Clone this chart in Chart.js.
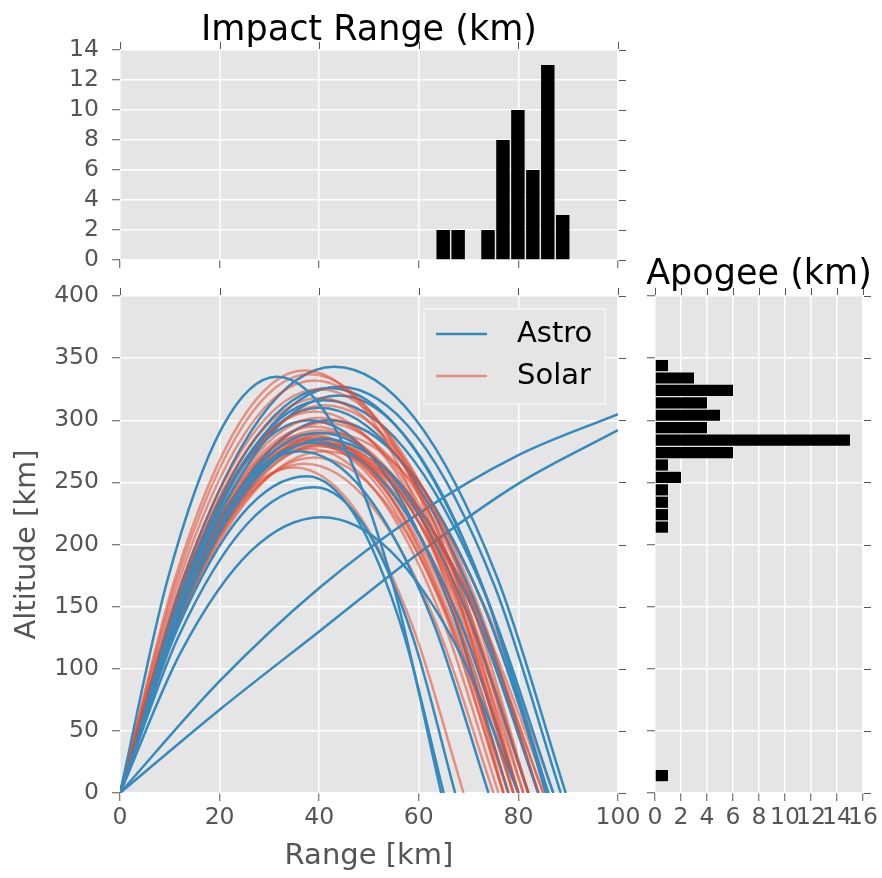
<!DOCTYPE html>
<html>
<head>
<meta charset="utf-8">
<script src="https://cdn.jsdelivr.net/npm/chart.js@4.4.1/dist/chart.umd.min.js"></script>
<style>
  html, body { margin: 0; padding: 0; background: #fff; }
  #wrap { position: relative; width: 882px; height: 878px; overflow: hidden; }
  canvas { position: absolute; }
</style>
</head>
<body>
<div id="wrap">
  <canvas id="topHist"  width="650" height="288" style="left:0;top:0"></canvas>
  <canvas id="mainPlot" width="650" height="610" style="left:0;top:268px"></canvas>
  <canvas id="sideHist" width="262" height="638" style="left:620px;top:240px"></canvas>
</div>
<script>
// ---- Data -------------------------------------------------------
const seriesNames  = ['Astro', 'Solar'];
const seriesColors = ['#348ABD', 'rgba(226,74,51,0.55)'];

// Trajectories [range km, altitude km]
const astroTracks = [
  [[0,0],[9.5,170.9],[20.5,294],[31.5,335],[43.1,294],[54.6,170.9],[64.5,0]],
  [[0,0],[11.3,130.1],[24.4,223.8],[37.5,255],[47.1,223.8],[56.8,130.1],[65,0]],
  [[0,0],[11.7,125.5],[25.4,215.9],[39,246],[48.9,215.9],[58.8,125.5],[67.3,0]],
  [[0,0],[12.2,113.2],[26.3,194.8],[40.5,222],[54.3,194.8],[68.2,113.2],[80,0]],
  [[0,0],[12.9,174.9],[28,301],[43,343],[59.3,301],[75.6,174.9],[89.5,0]],
  [[0,0],[13.2,166.8],[28.6,286.9],[44,327],[59.6,286.9],[75.2,166.8],[88.5,0]],
  [[0,0],[12.6,166.3],[27.3,286.1],[42,326],[57.4,286.1],[72.8,166.3],[86,0]],
  [[0,0],[13.2,163.2],[28.6,280.8],[44,320],[58.5,280.8],[73.1,163.2],[85.5,0]],
  [[0,0],[12,158.1],[26,272],[40,310],[55.4,272],[70.8,158.1],[84,0]],
  [[0,0],[12.6,153],[27.3,263.3],[42,300],[57.4,263.3],[72.8,153],[86,0]],
  [[0,0],[12,147.9],[26,254.5],[40,290],[54.7,254.5],[69.4,147.9],[82,0]],
  [[0,0],[12.3,145.4],[26.7,250.1],[41,285],[56.1,250.1],[71.1,145.4],[84,0]],
  [[0,0],[11.7,143.8],[25.4,247.5],[39,282],[53.4,247.5],[67.7,143.8],[80,0]],
  [[0,0],[10.8,140.3],[23.4,241.3],[36,275],[49.3,241.3],[62.6,140.3],[74,0]],
  [[0,0],[12.3,161.2],[26.7,277.3],[41,316],[57.1,277.3],[73.2,161.2],[87,0]],
  [[0,0],[11.4,153],[24.7,263.3],[38,300],[52,263.3],[66,153],[78,0]],
  [[0,0],[20,90],[40,165],[60,225],[80,272],[100,305]],
  [[0,0],[20,67],[40,130],[60,193],[80,249],[100,292]]
];

const solarTracks = [
  [[0,0],[11.1,173.4],[24.1,298.4],[37,340],[51,298.4],[65,173.4],[77,0]],
  [[0,0],[11.4,171.9],[24.7,295.7],[38,337],[52.4,295.7],[66.7,171.9],[79,0]],
  [[0,0],[11.7,169.3],[25.4,291.3],[39,332],[53.4,291.3],[67.7,169.3],[80,0]],
  [[0,0],[12,165.8],[26,285.2],[40,325],[54.7,285.2],[69.4,165.8],[82,0]],
  [[0,0],[12,162.2],[26,279],[40,318],[54.4,279],[68.7,162.2],[81,0]],
  [[0,0],[12.3,159.1],[26.7,273.8],[41,312],[56.1,273.8],[71.1,159.1],[84,0]],
  [[0,0],[11.7,156.6],[25.4,269.4],[39,307],[53.4,269.4],[67.7,156.6],[80,0]],
  [[0,0],[12,154],[26,265],[40,302],[54.7,265],[69.4,154],[82,0]],
  [[0,0],[12.3,152],[26.7,261.5],[41,298],[56.1,261.5],[71.1,152],[84,0]],
  [[0,0],[11.7,150.5],[25.4,258.9],[39,295],[53.4,258.9],[67.7,150.5],[80,0]],
  [[0,0],[12,148.9],[26,256.2],[40,292],[54.7,256.2],[69.4,148.9],[82,0]],
  [[0,0],[11.4,147.4],[24.7,253.6],[38,289],[51.7,253.6],[65.3,147.4],[77,0]],
  [[0,0],[11.7,146.4],[25.4,251.8],[39,287],[53,251.8],[67,146.4],[79,0]],
  [[0,0],[12,145.9],[26,251],[40,286],[54.4,251],[68.7,145.9],[81,0]],
  [[0,0],[11.4,145.4],[24.7,250.1],[38,285],[52,250.1],[66,145.4],[78,0]],
  [[0,0],[11.7,144.8],[25.4,249.2],[39,284],[53.4,249.2],[67.7,144.8],[80,0]],
  [[0,0],[12,144.3],[26,248.3],[40,283],[54.7,248.3],[69.4,144.3],[82,0]],
  [[0,0],[11.4,143.8],[24.7,247.5],[38,282],[51.7,247.5],[65.3,143.8],[77,0]],
  [[0,0],[12.3,143.3],[26.7,246.6],[41,281],[56.4,246.6],[71.8,143.3],[85,0]],
  [[0,0],[11.7,142.8],[25.4,245.7],[39,280],[53,245.7],[67,142.8],[79,0]],
  [[0,0],[12,142.3],[26,244.8],[40,279],[56.1,244.8],[72.2,142.3],[86,0]],
  [[0,0],[11.4,141.3],[24.7,243.1],[38,277],[51.3,243.1],[64.6,141.3],[76,0]],
  [[0,0],[12.3,140.3],[26.7,241.3],[41,275],[56.4,241.3],[71.8,140.3],[85,0]],
  [[0,0],[11.7,137.7],[25.4,236.9],[39,270],[52.7,236.9],[66.3,137.7],[78,0]],
  [[0,0],[11.1,135.2],[24.1,232.5],[37,265],[50.3,232.5],[63.6,135.2],[75,0]],
  [[0,0],[10.5,133.6],[22.8,229.9],[35,262],[46.9,229.9],[58.8,133.6],[69,0]],
  [[0,0],[12.6,153],[27.3,263.3],[42,300],[57.4,263.3],[72.8,153],[86,0]],
  [[0,0],[12.6,147.9],[27.3,254.5],[42,290],[57.8,254.5],[73.5,147.9],[87,0]]
];

// Impact range histogram (bin centres, km)
const impactBins   = [64.9, 67.9, 70.9, 73.9, 76.9, 79.9, 82.9, 85.9, 88.9];
const impactCounts = [2, 2, 0, 2, 8, 10, 6, 13, 3];

// Apogee histogram (bin centres, km)
const apogeeBins   = [344, 334, 324, 314, 304, 294, 284, 274, 264, 254, 244, 234, 224, 214,
                      204, 194, 184, 174, 164, 154, 144, 134, 124, 114, 104, 94, 84, 74, 64, 54, 44, 34, 24, 14];
const apogeeCounts = [1, 3, 6, 4, 5, 4, 15, 6, 1, 2, 1, 1, 1, 1,
                      0, 0, 0, 0, 0, 0, 0, 0, 0, 0, 0, 0, 0, 0, 0, 0, 0, 0, 0, 1];

// ---- Shared look ------------------------------------------------
Chart.defaults.font.family = 'DejaVu Sans';
Chart.defaults.animation = false;

const BG      = '#E5E5E5';
const TXT     = '#555555';
const TICKFNT = { family: 'DejaVu Sans', size: 23.5 };
const LBLFNT  = { family: 'DejaVu Sans', size: 29 };

function gridOpts() {
  return { color: '#ffffff', lineWidth: 1.5, tickColor: TXT, tickWidth: 1, tickLength: 8, offset: false };
}

// fond gris de la zone de tracé
const areaBg = {
  id: 'areaBg',
  beforeDraw(chart) {
    const { ctx, chartArea: a } = chart;
    ctx.save();
    ctx.fillStyle = BG;
    ctx.fillRect(a.left, a.top, a.right - a.left, a.bottom - a.top);
    ctx.restore();
  }
};

// ticks en miroir (haut + droite)
const mirrorTicks = {
  id: 'mirrorTicks',
  afterDraw(chart) {
    const { ctx, chartArea: a, scales } = chart;
    ctx.save();
    ctx.strokeStyle = TXT;
    ctx.lineWidth = 1;
    ctx.beginPath();
    scales.x.ticks.forEach(t => {
      const px = Math.round(scales.x.getPixelForValue(t.value)) + 0.5;
      ctx.moveTo(px, a.top - 1); ctx.lineTo(px, a.top - 8);
    });
    scales.y.ticks.forEach(t => {
      const py = Math.round(scales.y.getPixelForValue(t.value)) + 0.5;
      ctx.moveTo(a.right + 1, py); ctx.lineTo(a.right + 8, py);
    });
    ctx.stroke();
    ctx.restore();
  }
};

// titre centré sur la zone de tracé
const areaTitle = {
  id: 'areaTitle',
  afterDraw(chart, args, opts) {
    if (!opts || !opts.text) return;
    const { ctx, chartArea: a } = chart;
    ctx.save();
    ctx.fillStyle = '#000';
    ctx.font = '35px "DejaVu Sans"';
    ctx.textAlign = 'center';
    ctx.textBaseline = 'alphabetic';
    ctx.fillText(opts.text, (a.left + a.right) / 2, a.top - opts.gap);
    ctx.restore();
  }
};

// légende dans la zone de tracé, en haut à droite
const boxLegend = {
  id: 'boxLegend',
  afterDatasetsDraw(chart) {
    const { ctx, chartArea: a } = chart;
    const x0 = a.right - 194, y0 = a.top + 13, w = 181, h = 95;
    ctx.save();
    ctx.fillStyle = BG;
    ctx.fillRect(x0, y0, w, h);
    ctx.strokeStyle = '#f4f4f4';
    ctx.lineWidth = 1.5;
    ctx.strokeRect(x0, y0, w, h);
    seriesNames.forEach((name, i) => {
      const y = y0 + 25 + i * 42;
      ctx.strokeStyle = seriesColors[i];
      ctx.lineWidth = 2.5;
      ctx.beginPath(); ctx.moveTo(x0 + 12, y); ctx.lineTo(x0 + 63, y); ctx.stroke();
      ctx.fillStyle = '#000';
      ctx.font = '29px "DejaVu Sans"';
      ctx.textBaseline = 'middle';
      ctx.fillText(name, x0 + 93, y);
    });
    ctx.restore();
  }
};

// ---- Top histogram: impact range --------------------------------
new Chart(document.getElementById('topHist'), {
  type: 'bar',
  data: {
    datasets: [{
      data: impactBins.map((b, i) => ({ x: b, y: impactCounts[i] })),
      backgroundColor: '#000', borderWidth: 0,
      categoryPercentage: 0.9, barPercentage: 1
    }]
  },
  options: {
    responsive: false,
    layout: { padding: { top: 50, right: 32, left: 0, bottom: 0 } },
    plugins: { legend: { display: false }, tooltip: { enabled: false },
               areaTitle: { text: 'Impact Range (km)', gap: 10 } },
    scales: {
      x: { type: 'linear', min: 0, max: 100, offset: false,
           ticks: { stepSize: 20, display: false, autoSkip: false }, grid: gridOpts(), border: { display: false },
           afterFit: s => { s.height = 28; } },
      y: { min: 0, max: 14,
           ticks: { stepSize: 2, color: TXT, font: TICKFNT, padding: 13, autoSkip: false },
           grid: gridOpts(), border: { display: false },
           afterFit: s => { s.width = 120; } }
    }
  },
  plugins: [areaBg, mirrorTicks, areaTitle]
});

// ---- Main plot: trajectories ------------------------------------
const trackSets = [];
const nMax = Math.max(astroTracks.length, solarTracks.length);
for (let i = 0; i < nMax; i++) {
  if (astroTracks[i]) trackSets.push({ data: astroTracks[i], borderColor: seriesColors[0] });
  if (solarTracks[i]) trackSets.push({ data: solarTracks[i], borderColor: seriesColors[1] });
}

new Chart(document.getElementById('mainPlot'), {
  type: 'line',
  data: {
    datasets: trackSets.map(d => Object.assign(d, {
      borderWidth: 2.5, pointRadius: 0, fill: false, cubicInterpolationMode: 'monotone'
    }))
  },
  options: {
    responsive: false,
    layout: { padding: { top: 28, right: 32, left: 0, bottom: 0 } },
    plugins: { legend: { display: false }, tooltip: { enabled: false } },
    scales: {
      x: { type: 'linear', min: 0, max: 100,
           ticks: { stepSize: 20, color: TXT, font: TICKFNT, padding: 3, maxRotation: 0, autoSkip: false },
           grid: gridOpts(), border: { display: false },
           title: { display: true, text: 'Range [km]', color: TXT, font: LBLFNT, padding: { top: 0, bottom: 4 } },
           afterFit: s => { s.height = 85; } },
      y: { type: 'linear', min: 0, max: 400,
           ticks: { stepSize: 50, color: TXT, font: TICKFNT, padding: 13, autoSkip: false },
           grid: gridOpts(), border: { display: false },
           title: { display: true, text: 'Altitude [km]', color: TXT, font: LBLFNT, padding: { top: 10, bottom: 0 } },
           afterFit: s => { s.width = 120; } }
    }
  },
  plugins: [areaBg, mirrorTicks, boxLegend]
});

// ---- Side histogram: apogee -------------------------------------
new Chart(document.getElementById('sideHist'), {
  type: 'bar',
  data: {
    datasets: [{
      data: apogeeBins.map((b, i) => ({ x: apogeeCounts[i], y: b })),
      backgroundColor: '#000', borderWidth: 0,
      categoryPercentage: 0.9, barPercentage: 1
    }]
  },
  options: {
    responsive: false,
    indexAxis: 'y',
    layout: { padding: { top: 56, right: 19, left: 0, bottom: 0 } },
    plugins: { legend: { display: false }, tooltip: { enabled: false },
               areaTitle: { text: 'Apogee (km)', gap: 12 } },
    scales: {
      x: { type: 'linear', min: 0, max: 16,
           ticks: { stepSize: 2, color: TXT, font: TICKFNT, padding: 3, maxRotation: 0, autoSkip: false },
           grid: gridOpts(), border: { display: false },
           afterFit: s => { s.height = 85; } },
      y: { type: 'linear', min: 0, max: 400, offset: false,
           ticks: { stepSize: 50, display: false, autoSkip: false },
           grid: gridOpts(), border: { display: false },
           afterFit: s => { s.width = 35; } }
    }
  },
  plugins: [areaBg, mirrorTicks, areaTitle]
});
</script>
</body>
</html>
